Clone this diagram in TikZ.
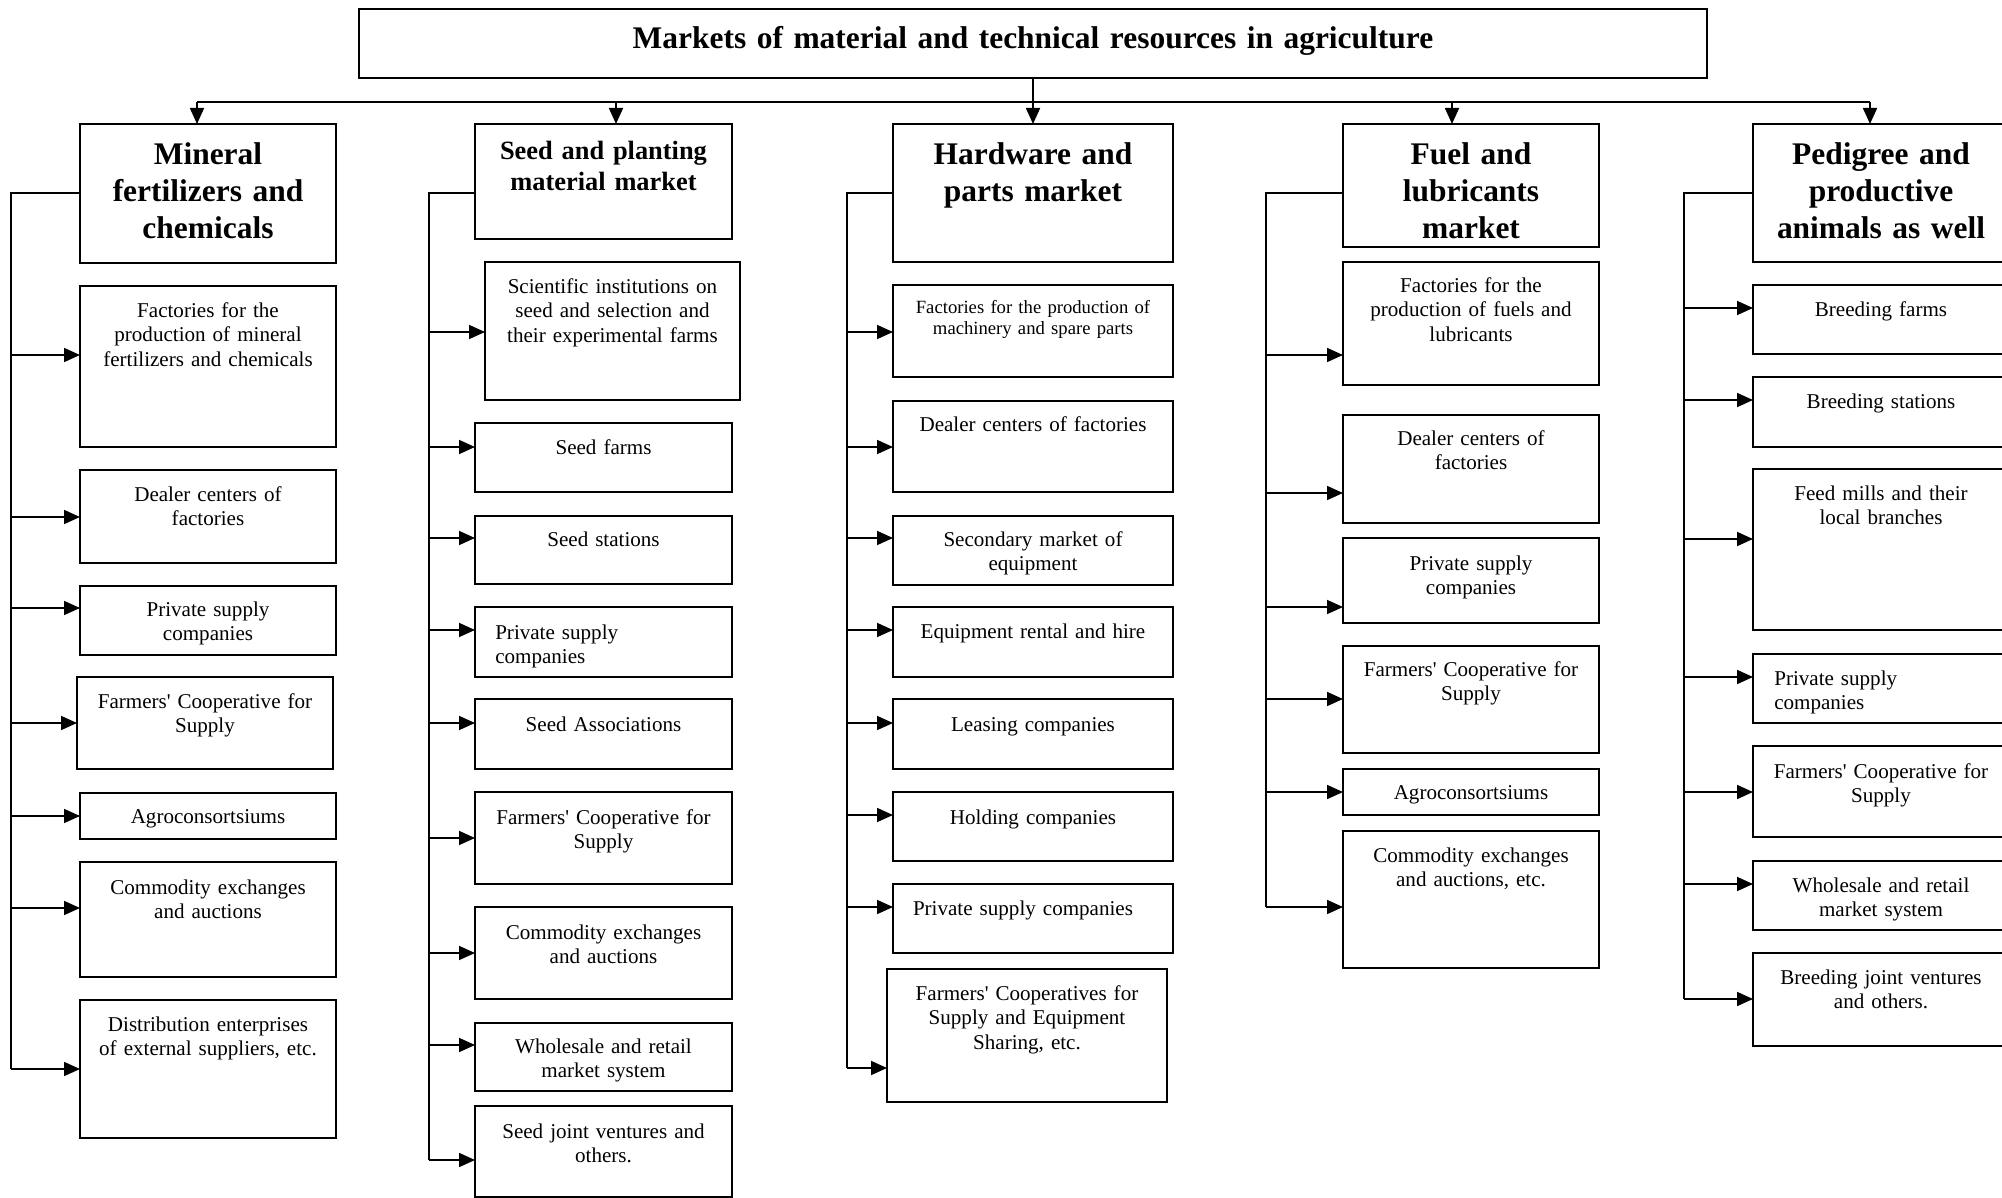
\documentclass[tikz,border=0pt]{standalone}
\usepackage{fontspec}
\setmainfont{Liberation Serif}[Ligatures=TeXOff]
\usetikzlibrary{arrows.meta}
\tikzset{
  x=0.75pt, y=-0.75pt,
  box/.style={draw, line width=1.4pt, inner sep=0pt, outer sep=0pt},
  ln/.style={line width=1.3pt},
  arr/.style={ln, -{Triangle[length=12pt,width=10.5pt]}},
  txt/.style={inner sep=0pt, align=center, font=\fontsize{15.8}{18.4}\selectfont},
  txtl/.style={txt, align=left, anchor=base west},
  txts/.style={txt, font=\fontsize{14}{16.1}\selectfont},
  hd/.style={txt, font=\bfseries\fontsize{23.6}{27.7}\selectfont},
  hds/.style={txt, font=\bfseries\fontsize{19.8}{23}\selectfont},
}
% name, x1, y1, x2, y2, text x, text baseline y, text, text style
\newcommand\bx[9]{%
  \pgfmathsetmacro\Bw{(#4-#2)*0.75}%
  \pgfmathsetmacro\Bh{(#5-#3)*0.75}%
  \pgfmathsetmacro\Tw{(#4-#2-8)*0.75}%
  \node[box, minimum width=\Bw pt, minimum height=\Bh pt, anchor=north west] (#1) at (#2,#3) {};
  \node[anchor=base, text width=\Tw pt, #9] (#1t) at (#6,#7) {#8};}
% bus x, arrow y, child
\newcommand\arw[3]{%
  \coordinate (#3a) at (#1,#2);
  \draw[arr] (#3a) -- (#3a -| #3.west);}
\begin{document}
\begin{tikzpicture}
\useasboundingbox (0,0) rectangle (2002,1198);
\clip (0,0) rectangle (2002,1198);
\fill[white] (0,0) rectangle (2002,1198);

% title
\bx{top}{359}{9}{1707}{78}{1033}{48.5}{Markets of material and technical resources in agriculture}{hd}

% column 1
\bx{h1}{80}{124}{336}{263}{208}{165}{Mineral\\fertilizers and\\chemicals}{hd}
\bx{c1a}{80}{286}{336}{447}{208}{317}{Factories for the\\production of mineral\\fertilizers and chemicals}{txt}
\bx{c1b}{80}{470}{336}{563}{208}{501}{Dealer centers of\\factories}{txt}
\bx{c1c}{80}{586}{336}{655}{208}{616}{Private supply\\companies}{txt}
\bx{c1d}{77}{677}{333}{769}{205}{708}{Farmers' Cooperative for\\Supply}{txt}
\bx{c1e}{80}{793}{336}{839}{208}{823}{Agroconsortsiums}{txt}
\bx{c1f}{80}{862}{336}{977}{208}{894}{Commodity exchanges\\and auctions}{txt}
\bx{c1g}{80}{1000}{336}{1138}{208}{1031}{Distribution enterprises\\of external suppliers, etc.}{txt}

% column 2
\bx{h2}{475}{124}{732}{239}{603.5}{160}{Seed and planting\\material market}{hds}
\bx{c2a}{485}{262}{740}{400}{612.5}{293}{Scientific institutions on\\seed and selection and\\their experimental farms}{txt}
\bx{c2b}{475}{423}{732}{492}{603.5}{454}{Seed farms}{txt}
\bx{c2c}{475}{516}{732}{584}{603.5}{546}{Seed stations}{txt}
\bx{c2d}{475}{607}{732}{677}{495}{639}{Private supply\\companies}{txtl}
\bx{c2e}{475}{699}{732}{769}{603.5}{731}{Seed Associations}{txt}
\bx{c2f}{475}{792}{732}{884}{603.5}{824}{Farmers' Cooperative for\\Supply}{txt}
\bx{c2g}{475}{907}{732}{999}{603.5}{939}{Commodity exchanges\\and auctions}{txt}
\bx{c2h}{475}{1023}{732}{1091}{603.5}{1053}{Wholesale and retail\\market system}{txt}
\bx{c2i}{475}{1106}{732}{1197}{603.5}{1138}{Seed joint ventures and\\others.}{txt}

% column 3
\bx{h3}{893}{124}{1173}{262}{1033}{165}{Hardware and\\parts market}{hd}
\bx{c3a}{893}{285}{1173}{377}{1033}{313}{Factories for the production of\\machinery and spare parts}{txts}
\bx{c3b}{893}{401}{1173}{492}{1033}{431}{Dealer centers of factories}{txt}
\bx{c3c}{893}{516}{1173}{585}{1033}{546}{Secondary market of\\equipment}{txt}
\bx{c3d}{893}{607}{1173}{677}{1033}{638}{Equipment rental and hire}{txt}
\bx{c3e}{893}{699}{1173}{769}{1033}{731}{Leasing companies}{txt}
\bx{c3f}{893}{792}{1173}{861}{1033}{824}{Holding companies}{txt}
\bx{c3g}{893}{884}{1173}{953}{1023}{915}{Private supply companies}{txt}
\bx{c3h}{887}{969}{1167}{1102}{1027}{1000}{Farmers' Cooperatives for\\Supply and Equipment\\Sharing, etc.}{txt}

% column 4
\bx{h4}{1343}{124}{1599}{247}{1471}{165}{Fuel and\\lubricants\\market}{hd}
\bx{c4a}{1343}{262}{1599}{385}{1471}{292}{Factories for the\\production of fuels and\\lubricants}{txt}
\bx{c4b}{1343}{415}{1599}{523}{1471}{445}{Dealer centers of\\factories}{txt}
\bx{c4c}{1343}{538}{1599}{623}{1471}{570}{Private supply\\companies}{txt}
\bx{c4d}{1343}{646}{1599}{753}{1471}{676}{Farmers' Cooperative for\\Supply}{txt}
\bx{c4e}{1343}{769}{1599}{815}{1471}{799}{Agroconsortsiums}{txt}
\bx{c4f}{1343}{831}{1599}{968}{1471}{862}{Commodity exchanges\\and auctions, etc.}{txt}

% column 5
\bx{h5}{1753}{124}{2009}{262}{1881}{165}{Pedigree and\\productive\\animals as well}{hd}
\bx{c5a}{1753}{285}{2009}{354}{1881}{316}{Breeding farms}{txt}
\bx{c5b}{1753}{377}{2009}{447}{1881}{408}{Breeding stations}{txt}
\bx{c5c}{1753}{469}{2009}{630}{1881}{500}{Feed mills and their\\local branches}{txt}
\bx{c5d}{1753}{654}{2009}{723}{1774}{685}{Private supply\\companies}{txtl}
\bx{c5e}{1753}{746}{2009}{837}{1881}{778}{Farmers' Cooperative for\\Supply}{txt}
\bx{c5f}{1753}{861}{2009}{930}{1881}{892}{Wholesale and retail\\market system}{txt}
\bx{c5g}{1753}{953}{2009}{1046}{1881}{984}{Breeding joint ventures\\and others.}{txt}

% top distribution
\coordinate (t1) at (197,102);
\coordinate (t2) at (616,102);
\coordinate (t4) at (1452,102);
\coordinate (t5) at (1870,102);
\draw[ln] (t1) -- (t5);
\draw[arr] (top.south) -- (h3.north);
\draw[arr] (t1) -- (t1 |- h1.north);
\draw[arr] (t2) -- (t2 |- h2.north);
\draw[arr] (t4) -- (t4 |- h4.north);
\draw[arr] (t5) -- (t5 |- h5.north);

% column 1 arrows
\arw{11}{355}{c1a}
\arw{11}{517}{c1b}
\arw{11}{608}{c1c}
\arw{11}{723}{c1d}
\arw{11}{816}{c1e}
\arw{11}{908}{c1f}
\arw{11}{1069}{c1g}
\coordinate (b1) at (11,193);
\draw[ln] (h1.west |- b1) -- (b1) -- (c1ga);

% column 2 arrows
\arw{429}{332}{c2a}
\arw{429}{447}{c2b}
\arw{429}{538}{c2c}
\arw{429}{630}{c2d}
\arw{429}{723}{c2e}
\arw{429}{838}{c2f}
\arw{429}{953}{c2g}
\arw{429}{1045}{c2h}
\arw{429}{1160}{c2i}
\coordinate (b2) at (429,193);
\draw[ln] (h2.west |- b2) -- (b2) -- (c2ia);

% column 3 arrows
\arw{847}{332}{c3a}
\arw{847}{447}{c3b}
\arw{847}{538}{c3c}
\arw{847}{630}{c3d}
\arw{847}{723}{c3e}
\arw{847}{815}{c3f}
\arw{847}{907}{c3g}
\arw{847}{1068}{c3h}
\coordinate (b3) at (847,193);
\draw[ln] (h3.west |- b3) -- (b3) -- (c3ha);

% column 4 arrows
\arw{1266}{355}{c4a}
\arw{1266}{493}{c4b}
\arw{1266}{607}{c4c}
\arw{1266}{699}{c4d}
\arw{1266}{792}{c4e}
\arw{1266}{907}{c4f}
\coordinate (b4) at (1266,193);
\draw[ln] (h4.west |- b4) -- (b4) -- (c4fa);

% column 5 arrows
\arw{1684}{308}{c5a}
\arw{1684}{400}{c5b}
\arw{1684}{539}{c5c}
\arw{1684}{677}{c5d}
\arw{1684}{792}{c5e}
\arw{1684}{884}{c5f}
\arw{1684}{999}{c5g}
\coordinate (b5) at (1684,193);
\draw[ln] (h5.west |- b5) -- (b5) -- (c5ga);
\end{tikzpicture}
\end{document}
